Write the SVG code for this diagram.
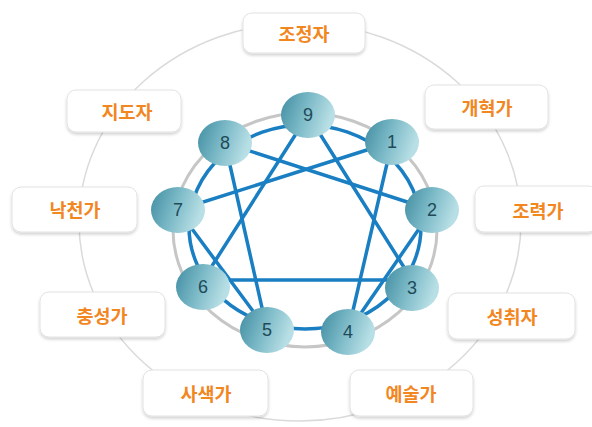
<svg xmlns="http://www.w3.org/2000/svg" width="592" height="427" viewBox="0 0 592 427">
<defs>
<linearGradient id="ng" x1="0" y1="0" x2="1" y2="0.3">
<stop offset="0" stop-color="#3f8ca1"/>
<stop offset="0.55" stop-color="#7fbcc9"/>
<stop offset="1" stop-color="#b8dfe5"/>
</linearGradient>
<filter id="sh" x="-20%" y="-20%" width="140%" height="160%">
<feDropShadow dx="0" dy="2" stdDeviation="1.5" flood-color="#000" flood-opacity="0.18"/>
</filter>
</defs>
<style>
.box{fill:#fff;stroke:#e2e2e2;stroke-width:1;filter:url(#sh)}
.lbl{font-family:"Noto Sans CJK KR","Liberation Sans",sans-serif;font-weight:bold;font-size:18.5px;fill:#f2861f;text-anchor:middle;dominant-baseline:central}
.node{fill:url(#ng)}
.num{font-family:"Liberation Sans",sans-serif;font-size:18px;fill:#1f4b59;text-anchor:middle;dominant-baseline:central}
.ln{stroke:#1a7fc2;stroke-width:3.5;fill:none;stroke-linecap:round}
</style>
<rect width="592" height="427" fill="#fff"/>
<ellipse cx="300" cy="222" rx="221" ry="199" fill="none" stroke="#dadada" stroke-width="1.5"/>
<ellipse cx="305" cy="230" rx="132" ry="117" fill="none" stroke="#c6c6c6" stroke-width="3"/>
<g id="connectors">
<ellipse class="ln" cx="305" cy="227" rx="116" ry="102"/>
<line class="ln" x1="308" y1="115" x2="412" y2="280"/>
<line class="ln" x1="308" y1="115" x2="203" y2="280"/>
<line class="ln" x1="203" y1="280" x2="412" y2="280"/>
<line class="ln" x1="392" y1="142" x2="348" y2="332"/>
<line class="ln" x1="348" y1="332" x2="432" y2="210"/>
<line class="ln" x1="432" y1="210" x2="225" y2="143"/>
<line class="ln" x1="225" y1="143" x2="267" y2="330"/>
<line class="ln" x1="267" y1="330" x2="178" y2="210"/>
<line class="ln" x1="178" y1="210" x2="392" y2="142"/>
</g>
<g id="n9"><ellipse class="node" cx="308" cy="115" rx="27" ry="23"/><text class="num" x="308" y="115">9</text></g>
<g id="n1"><ellipse class="node" cx="392" cy="142" rx="27" ry="23"/><text class="num" x="392" y="142">1</text></g>
<g id="n2"><ellipse class="node" cx="432" cy="210" rx="27" ry="23"/><text class="num" x="432" y="210">2</text></g>
<g id="n3"><ellipse class="node" cx="412" cy="288" rx="27" ry="23"/><text class="num" x="412" y="288">3</text></g>
<g id="n4"><ellipse class="node" cx="348" cy="332" rx="27" ry="23"/><text class="num" x="348" y="332">4</text></g>
<g id="n5"><ellipse class="node" cx="267" cy="330" rx="27" ry="23"/><text class="num" x="267" y="330">5</text></g>
<g id="n6"><ellipse class="node" cx="203" cy="287" rx="27" ry="23"/><text class="num" x="203" y="287">6</text></g>
<g id="n7"><ellipse class="node" cx="178" cy="210" rx="27" ry="23"/><text class="num" x="178" y="210">7</text></g>
<g id="n8"><ellipse class="node" cx="225" cy="143" rx="27" ry="23"/><text class="num" x="225" y="143">8</text></g>
<g id="l9"><rect class="box" x="243" y="13" width="122" height="40" rx="9"/><text class="lbl" x="304" y="33">조정자</text></g>
<g id="l1"><rect class="box" x="425" y="85" width="123" height="44" rx="9"/><text class="lbl" x="487" y="107">개혁가</text></g>
<g id="l2"><rect class="box" x="475" y="186" width="122" height="46" rx="9"/><text class="lbl" x="538" y="210">조력가</text></g>
<g id="l3"><rect class="box" x="448" y="293" width="127" height="46" rx="9"/><text class="lbl" x="512" y="316">성취자</text></g>
<g id="l4"><rect class="box" x="350" y="370" width="123" height="46" rx="9"/><text class="lbl" x="411" y="393">예술가</text></g>
<g id="l5"><rect class="box" x="143" y="370" width="125" height="46" rx="9"/><text class="lbl" x="206" y="393">사색가</text></g>
<g id="l6"><rect class="box" x="40" y="292" width="125" height="45" rx="9"/><text class="lbl" x="102" y="315">충성가</text></g>
<g id="l7"><rect class="box" x="12" y="187" width="125" height="45" rx="9"/><text class="lbl" x="75" y="209">낙천가</text></g>
<g id="l8"><rect class="box" x="67" y="90" width="114" height="42" rx="9"/><text class="lbl" x="127" y="111">지도자</text></g>
</svg>
